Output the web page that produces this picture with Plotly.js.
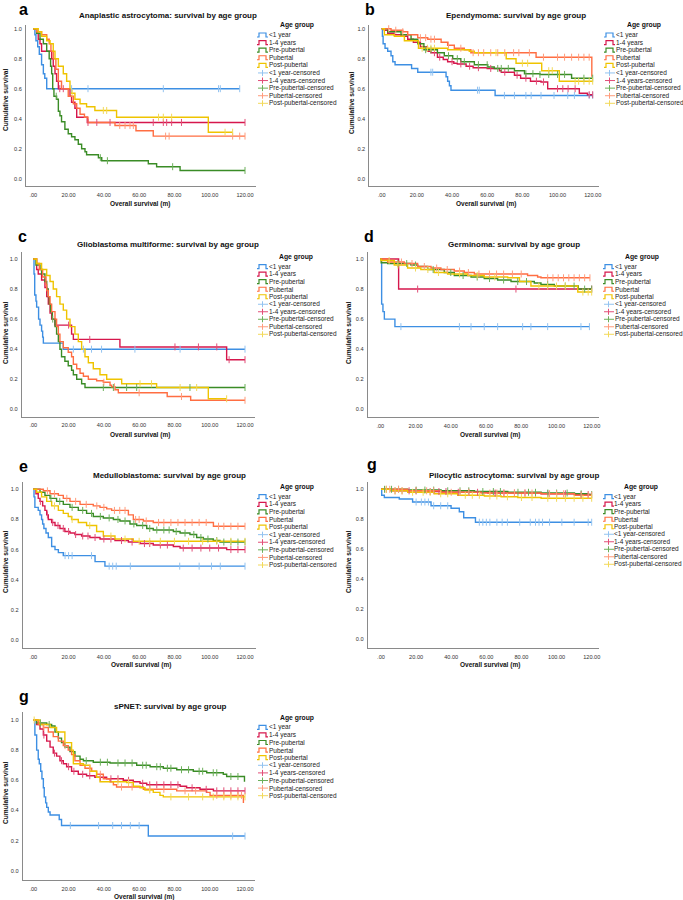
<!DOCTYPE html>
<html><head><meta charset="utf-8">
<script src="https://cdn.plot.ly/plotly-3.0.1.min.js"></script>
<style>html,body{margin:0;padding:0;background:#fff}</style>
</head><body><div id="chart" style="width:683px;height:900px"></div>
<script>
// ---------- labels ----------
const groups = ['<1 year','1-4 years','Pre-pubertal','Pubertal','Post-pubertal'];
const censorSuffix = '-censored';
const legendTitle = 'Age group';
const lineColors = ['#3d8fe3','#d6174c','#3a8c26','#ff6e42','#efc400'];
const censorColors = ['#93c3f0','#e24f78','#6cb05a','#ff9c7c','#f2d95a'];
const panelLetters = ['a','b','c','d','e','g','g'];
const panelTitles = [
  'Anaplastic astrocytoma: survival by age group',
  'Ependymoma: survival by age group',
  'Glioblastoma multiforme: survival by age group',
  'Germinoma: survival by age group',
  'Medulloblastoma: survival by age group',
  'Pilocytic astrocytoma: survival by age group',
  'sPNET: survival by age group'
];
const xTitle = 'Overall survival (m)';
const yTitle = 'Cumulative survival';
const xTickVals = [0,20,40,60,80,100,120];
const xTickText = ['.00','20.00','40.00','60.00','80.00','100.00','120.00'];
const yTickVals = [0,0.2,0.4,0.6,0.8,1.0];
const yTickText = ['0.0','0.2','0.4','0.6','0.8','1.0'];

// ---------- data: [time (months), survival after step]; censored times ----------
// a: Anaplastic astrocytoma
const aLt1 = [[0,1],[0.9,0.96],[1.5,0.92],[2.5,0.88],[3.4,0.83],[4.7,0.76],[5.7,0.70],[6.5,0.67],[7.6,0.60]];
const aLt1C = [21.7,31,73.7,105,106,117];
const a14 = [[0,1],[1.9,0.97],[2.8,0.93],[3.8,0.90],[4.7,0.85],[10.4,0.80],[11.3,0.75],[12.3,0.70],[13.2,0.65],[14.2,0.60],[20.8,0.55],[21.7,0.51],[23.6,0.47],[24.6,0.41],[30.6,0.375]];
const a14C = [15,17,31,36,43.5,68,73.7,75.6,78.4,84,120];
const aPre = [[0,1],[1.9,0.97],[3.8,0.93],[5.7,0.90],[7.6,0.85],[9,0.80],[9.8,0.75],[10.4,0.70],[11,0.60],[11.7,0.55],[13.2,0.53],[14.2,0.45],[15.1,0.42],[16,0.38],[17.9,0.33],[19.8,0.30],[21.7,0.28],[23.6,0.26],[25.5,0.23],[27.4,0.20],[29.3,0.18],[30.2,0.16],[36.9,0.14],[38.8,0.12],[65.2,0.10],[69.9,0.08],[83.2,0.055]];
const aPreC = [13,38,42,79,120];
const aPub = [[0,1],[1.9,0.98],[4.7,0.96],[7.6,0.93],[9,0.90],[10,0.85],[11.3,0.80],[12.8,0.73],[14.2,0.65],[16,0.60],[19.8,0.55],[22.7,0.50],[24.6,0.47],[26.5,0.43],[29,0.41],[31,0.375],[46.3,0.355],[58.2,0.32],[68,0.284]];
const aPubC = [49,52,54.8,56.7,75,77,113,117,120];
const aPost = [[0,1],[2.8,0.98],[4.7,0.95],[7.6,0.92],[9.5,0.90],[11.3,0.85],[12.3,0.80],[14.2,0.75],[17,0.70],[18.9,0.65],[20.8,0.60],[21.7,0.57],[23.6,0.53],[26.5,0.50],[30.2,0.48],[34.9,0.455],[47.2,0.41],[99.2,0.31]];
const aPostC = [22,39.7,41.6,71,73.7,78.4,108.7,113];

// b: Ependymoma
const bLt1 = [[0,1],[0.4,0.95],[0.8,0.90],[1.9,0.87],[3.4,0.85],[5.3,0.82],[6.3,0.78],[7.6,0.76],[17,0.735],[20.5,0.71],[36.6,0.68],[37.5,0.65],[38.5,0.62],[39.4,0.59],[64.5,0.555]];
const bLt1C = [28,29,54.5,55.5,69.8,75.5,82,85,90.6,98,105.8,109.6,118,120];
const b14 = [[0,1],[1.5,0.99],[3.4,0.97],[7,0.96],[11,0.95],[14.8,0.93],[18,0.91],[22,0.88],[26,0.85],[28,0.84],[31.7,0.81],[35,0.795],[37.5,0.78],[41,0.77],[43,0.765],[48,0.75],[52,0.74],[60,0.735],[67,0.72],[68,0.71],[75.5,0.69],[79,0.67],[84.6,0.65],[90.6,0.645],[94.4,0.60],[112.4,0.57],[117,0.56]];
const b14C = [30,33,40,45,50,55,62,70,77,82,88,92,100,103,106,110,118,120];
const bPre = [[0,1],[3.4,0.98],[11,0.96],[16.7,0.93],[20.5,0.90],[24,0.86],[31.7,0.84],[35.6,0.82],[40.4,0.80],[45,0.78],[52.7,0.76],[60.3,0.745],[64,0.735],[75.5,0.72],[81.2,0.70],[90,0.695],[108,0.67]];
const bPreC = [25,28,38,43,47,55,60,66,68,72,82,86,90,95,100,104,115,120];
const bPub = [[0,1],[5.3,0.99],[12,0.98],[14.8,0.96],[20.5,0.94],[26.2,0.93],[33.8,0.91],[37.5,0.89],[41.3,0.87],[47,0.86],[50.7,0.84],[87.8,0.81],[119.5,0.68]];
const bPubC = [4,8,12,22,25,28,30,38,45,52,55,58,62,66,70,75,78,84,92,100,104,108,112,115,118];
const bPost = [[0,1],[1.5,0.96],[7.2,0.95],[12.9,0.92],[20.9,0.87],[37.5,0.86],[49.8,0.85],[52.7,0.84],[70.8,0.80],[76.4,0.77],[91,0.72],[101,0.65]];
const bPostC = [23,26,28,30,65,80,83,95,97,110,112,115,118,120];

// c: Glioblastoma multiforme
const cLt1 = [[0,1],[0.4,0.90],[0.8,0.76],[1.5,0.72],[1.9,0.68],[3,0.60],[3.8,0.56],[4.7,0.52],[5.3,0.48],[5.7,0.44],[17,0.40]];
const cLt1C = [22.7,28.4,33,38.7,57.6,83.2,120];
const c14 = [[0,1],[1.9,0.93],[2.8,0.90],[4.7,0.86],[6.6,0.81],[7.6,0.75],[8.5,0.70],[9.5,0.64],[10.4,0.60],[12.3,0.56],[21.7,0.50],[22.7,0.465],[49.1,0.415],[109.6,0.33]];
const c14C = [20,32,80.3,93.6,104,111,120];
const cPre = [[0,1],[1.5,0.96],[3.8,0.93],[4.7,0.90],[6.6,0.85],[7.6,0.80],[8.5,0.75],[9.1,0.70],[9.8,0.65],[10.8,0.60],[12.3,0.55],[13.2,0.50],[14.2,0.45],[15.1,0.40],[16,0.35],[17.9,0.32],[19.8,0.29],[21.7,0.26],[22.7,0.23],[24.6,0.20],[27.4,0.17],[29.3,0.145]];
const cPreC = [11,39.7,45.4,52.9,58.6,88.8,120];
const cPub = [[0,1],[1.9,0.97],[3.4,0.93],[5.3,0.88],[7.2,0.83],[7.6,0.79],[8.5,0.75],[9.5,0.70],[10.4,0.65],[12.3,0.60],[13.2,0.55],[14.2,0.50],[15.1,0.45],[17,0.41],[19.8,0.38],[21.7,0.35],[22.7,0.30],[24.6,0.27],[26.5,0.24],[28.4,0.22],[31.2,0.20],[35.9,0.19],[39.7,0.18],[43.5,0.16],[44.4,0.15],[46.3,0.13],[48.2,0.11],[75.9,0.085],[89.2,0.06]];
const cPubC = [40,46,60,84,120];
const cPost = [[0,1],[1.9,0.97],[4.7,0.93],[7.6,0.89],[9.5,0.85],[11.3,0.80],[13.2,0.75],[15.1,0.70],[17,0.66],[18.9,0.60],[20.8,0.55],[23.6,0.50],[25.5,0.45],[27.4,0.40],[29.3,0.35],[31.2,0.31],[34,0.27],[37.8,0.23],[41.6,0.20],[50.1,0.17],[69.9,0.145],[99.2,0.07]];
const cPostC = [60.5,67,83.2,92.6,109.6];

// d: Germinoma
const dLt1 = [[0,1],[0.76,0.70],[1.5,0.65],[2.3,0.60],[8.3,0.55]];
const dLt1C = [11.7,44.9,51.5,59,66.6,80.8,85.5,95,113.9,118.7];
const d14 = [[0,1],[10.4,0.80]];
const d14C = [21.2,77,120];
const dPre = [[0,1],[0.5,0.975],[4.2,0.97],[17.4,0.96],[21.2,0.95],[26.9,0.93],[36.3,0.91],[42,0.89],[51.5,0.88],[59,0.87],[66.6,0.86],[74.2,0.85],[87.4,0.84],[91.2,0.83],[98.8,0.82],[112.4,0.80]];
const dPreC = [10,15,20,30,40,47,55,62,70,78,83,95,105,110,116,120];
const dPub = [[0,1],[4.2,0.98],[13.6,0.97],[21.2,0.95],[28.8,0.94],[34.4,0.93],[42,0.92],[47.7,0.91],[53.4,0.90],[83.6,0.89],[89.3,0.88],[91.2,0.875]];
const dPubC = [12,18,25,32,38,45,50,56,62,66,70,75,80,95,98,101,104,107,110,113,116,119];
const dPost = [[0,1],[0.4,0.99],[7.9,0.96],[15.5,0.94],[23,0.93],[30.6,0.91],[38.2,0.90],[49.6,0.89],[59,0.88],[72.3,0.875],[79,0.85],[85.5,0.82],[112.1,0.78]];
const dPostC = [5,10,20,27,33,45,55,65,90,95,100,105,115,118,120];

// e: Medulloblastoma
const eLt1 = [[0,1],[0.4,0.95],[0.9,0.88],[2.8,0.86],[3.8,0.83],[4.7,0.80],[5.3,0.77],[6,0.74],[7.2,0.71],[8.5,0.68],[10.4,0.62],[12.3,0.60],[14.2,0.58],[17,0.56],[35,0.52],[40.6,0.49]];
const eLt1C = [18,20,22,33,43,45,47,55,83,94,101,106,120];
const e14 = [[0,1],[1.5,0.97],[2.8,0.94],[3.8,0.92],[5.3,0.89],[6.6,0.86],[7.6,0.83],[8.5,0.80],[10.4,0.78],[12.3,0.76],[15.1,0.74],[17.9,0.72],[20.8,0.71],[23.6,0.70],[27.4,0.69],[32.1,0.68],[37.8,0.67],[46.3,0.66],[53.9,0.65],[60.5,0.64],[68,0.63],[79.4,0.62],[83.2,0.61],[109.6,0.60]];
const e14C = [4,8,11,14,17,20,24,28,31,35,40,44,50,56,63,66,72,76,85,90,95,100,105,112,116,120];
const ePre = [[0,1],[3.8,0.98],[6.6,0.96],[9.5,0.94],[13.2,0.92],[17,0.90],[20.8,0.88],[25.5,0.86],[30.2,0.84],[34,0.82],[39.7,0.81],[45.4,0.80],[49.1,0.79],[54.8,0.77],[58.6,0.76],[64.3,0.74],[68,0.73],[79.4,0.72],[83.2,0.71],[88.8,0.70],[92.6,0.68],[96.4,0.67],[102,0.66],[105.8,0.65]];
const ePreC = [10,15,22,28,33,38,43,48,52,57,62,66,70,74,77,81,86,91,95,99,104,108,112,116,120];
const ePub = [[0,1],[5.7,0.99],[9.5,0.97],[14.2,0.96],[17,0.94],[20.8,0.92],[26.5,0.90],[34,0.89],[37.8,0.88],[41.6,0.87],[44.4,0.86],[53.9,0.83],[56.7,0.80],[62.4,0.79],[68,0.78],[102.1,0.755]];
const ePubC = [8,12,19,24,30,36,40,46,49,52,58,60,64,71,74,78,82,86,90,94,98,105,108,112,116,120];
const ePost = [[0,1],[1.9,0.98],[4.7,0.95],[7.6,0.92],[10.4,0.89],[14.2,0.86],[17,0.84],[19.8,0.82],[21.7,0.80],[25.5,0.78],[30.2,0.76],[35.9,0.72],[39.7,0.69],[46.3,0.67],[56.7,0.655]];
const ePostC = [12,22,32,44,52,60,66,72,80,88,96,104,112,120];

// f (labelled g): Pilocytic astrocytoma
const fLt1 = [[0,1],[0.4,0.96],[1.9,0.945],[10.4,0.935],[18,0.915],[28.5,0.89],[39.9,0.873],[44.6,0.85],[47.1,0.81],[53.8,0.78]];
const fLt1C = [20,23,25,27,30,34,38,56,58,60,62,66,69,72,79,85,88,90,92,96,103,110,118,120];
const f14 = [[0,1],[5.7,0.99],[24.7,0.985],[39.9,0.98],[60.8,0.975],[91.2,0.97],[110.2,0.965],[119,0.955]];
const f14C = [3,8,12,16,20,28,33,37,44,50,55,65,70,76,82,88,95,100,105,114,118];
const fPre = [[0,1],[15.2,0.995],[34.2,0.99],[53.2,0.985],[72.2,0.98],[91.2,0.975],[110.2,0.97],[118,0.965]];
const fPreC = [2,6,10,20,25,30,38,45,50,58,64,68,78,84,88,95,100,106,114,120];
const fPub = [[0,1],[15.2,0.99],[34.2,0.98],[57,0.975],[91.2,0.97],[110.2,0.96]];
const fPubC = [5,10,20,26,30,40,45,50,62,66,70,76,82,86,96,100,104,114,118,120];
const fPost = [[0,1],[5.7,0.99],[15.2,0.98],[30.4,0.97],[43.7,0.96],[58.9,0.955],[68.4,0.95],[77.9,0.945],[91.2,0.94]];
const fPostC = [3,8,12,18,24,28,34,38,48,52,56,62,66,72,80,86,95,100,105,110,115,120];

// g: sPNET
const gLt1 = [[0,1],[0.9,0.90],[1.9,0.80],[2.8,0.74],[3.4,0.71],[4.2,0.66],[4.9,0.61],[5.7,0.55],[6.2,0.49],[7,0.45],[7.6,0.42],[8.5,0.39],[9.5,0.37],[14.7,0.34],[16,0.30],[65.2,0.23]];
const gLt1C = [21,37,45,50,55,60,113,120];
const g14 = [[0,1],[1.9,0.97],[3.8,0.94],[5.7,0.90],[7.6,0.86],[9.5,0.82],[11.3,0.78],[13.2,0.76],[15.1,0.73],[17,0.71],[18.9,0.69],[21.7,0.66],[25.5,0.64],[30.2,0.63],[34.9,0.62],[41.6,0.61],[51,0.60],[56.7,0.59],[60.5,0.58],[64.3,0.57],[83.2,0.56],[86.9,0.55],[94.5,0.54],[102.1,0.53]];
const g14C = [6,12,16,20,23,28,32,38,44,48,54,62,66,70,74,78,82,90,98,104,108,112,116,120];
const gPre = [[0,1],[1.9,0.98],[7.6,0.97],[10.4,0.96],[12.3,0.92],[14.2,0.88],[16,0.85],[17.9,0.82],[20.8,0.79],[23.6,0.76],[26.5,0.74],[28.4,0.73],[34,0.72],[43.5,0.715],[58.6,0.70],[66.2,0.69],[73.7,0.68],[81.3,0.67],[90.7,0.66],[98.3,0.65],[107.7,0.64],[109.6,0.625],[119.7,0.59]];
const gPreC = [4,9,30,38,42,48,52,56,62,64,70,72,76,78,84,88,94,96,102,104,112,116];
const gPub = [[0,1],[2.8,0.97],[5.7,0.95],[8.5,0.92],[11.3,0.89],[14.2,0.86],[17,0.83],[19.8,0.80],[21.7,0.77],[23.6,0.73],[26.5,0.70],[29.3,0.68],[33.1,0.66],[35.9,0.64],[39.7,0.61],[43.5,0.59],[45.4,0.57],[47.2,0.555],[62.4,0.54],[81.3,0.53],[98.3,0.52],[100.2,0.50],[119.1,0.45]];
const gPubC = [6,18,32,38,50,56,66,74,86,92,104,108,112,116,118];
const gPost = [[0,1],[3.8,0.97],[9.5,0.95],[13.2,0.92],[17.9,0.85],[21.7,0.80],[22.7,0.71],[28.4,0.70],[32.1,0.66],[35.9,0.62],[37.8,0.59],[52.9,0.585],[56.7,0.56],[60.5,0.55],[63.3,0.535],[68,0.52],[71.8,0.50],[73.7,0.49]];
const gPostC = [0.5,48,54,66,78,88,96,102,108,112,116,120];

// ---------- assembly ----------
const panelSteps = [
  [aLt1,a14,aPre,aPub,aPost],[bLt1,b14,bPre,bPub,bPost],[cLt1,c14,cPre,cPub,cPost],
  [dLt1,d14,dPre,dPub,dPost],[eLt1,e14,ePre,ePub,ePost],[fLt1,f14,fPre,fPub,fPost],
  [gLt1,g14,gPre,gPub,gPost]];
const panelCens = [
  [aLt1C,a14C,aPreC,aPubC,aPostC],[bLt1C,b14C,bPreC,bPubC,bPostC],[cLt1C,c14C,cPreC,cPubC,cPostC],
  [dLt1C,d14C,dPreC,dPubC,dPostC],[eLt1C,e14C,ePreC,ePubC,ePostC],[fLt1C,f14C,fPreC,fPubC,fPostC],
  [gLt1C,g14C,gPreC,gPubC,gPostC]];

// pixel layout of each panel (layout only)
const PX = [
 {L:26,R:256,T:25,B:186,x0:33.3,x120:245,y1:28.7,y0:178.7,tX:168,tY:15,lX:18,lY:10,xtX:140,xtY:204,ytX:5,ytY:100,icX:257,txX:268,agX:297,agY:25,it0:35,itS:7.59},
 {L:369.3,R:599.3,T:25,B:186,x0:381.7,x120:592.7,y1:28.7,y0:178.7,tX:516,tY:15,lX:364,lY:10,xtX:486,xtY:204,ytX:351,ytY:103,icX:604,txX:615,agX:644,agY:25,it0:35,itS:7.59},
 {L:21.7,R:255,T:251.7,B:416.7,x0:33.3,x120:245,y1:259,y0:409.3,tX:168,tY:245,lX:17,lY:237,xtX:140,xtY:435,ytX:5,ytY:333,icX:257,txX:268,agX:296,agY:256.7,it0:266.7,itS:7.51},
 {L:367.7,R:599.3,T:252,B:417.3,x0:380.3,x120:591.7,y1:259,y0:409.3,tX:514,tY:245,lX:363,lY:237,xtX:490,xtY:435,ytX:348,ytY:333,icX:603,txX:614,agX:642,agY:256.7,it0:266.7,itS:7.51},
 {L:22.7,R:256,T:481.7,B:648.3,x0:33.3,x120:245,y1:489.3,y0:640,tX:169,tY:476,lX:18,lY:466,xtX:141,xtY:665,ytX:5,ytY:562,icX:257,txX:268,agX:297,agY:487.3,it0:496.7,itS:7.59},
 {L:367.7,R:599.3,T:481.7,B:648.3,x0:381,x120:591.7,y1:489.3,y0:639,tX:514,tY:476,lX:366,lY:464,xtX:490,xtY:665,ytX:348,ytY:562,icX:603,txX:613,agX:641,agY:487.3,it0:496.7,itS:7.51},
 {L:22.7,R:255,T:711.7,B:880,x0:33.3,x120:245,y1:720,y0:870.7,tX:170,tY:706,lX:18,lY:696,xtX:144,xtY:896.7,ytX:5,ytY:793,icX:257,txX:268,agX:297,agY:717.7,it0:727.3,itS:7.6}
];

const W = 683, H = 900, FONT = 'Liberation Sans, Arial, sans-serif';
const px = x => x / W, py = y => 1 - y / H;
const esc = s => s.replace(/</g,'&lt;');

function survAt(steps, t) {
  let s = steps[0][1];
  for (const [ti, si] of steps) { if (ti <= t) s = si; else break; }
  return s;
}

const traces = [];
const layout = {
  width: W, height: H, margin: {l:0,r:0,t:0,b:0},
  paper_bgcolor: '#fff', plot_bgcolor: '#fff', showlegend: false,
  font: {family: FONT, color: '#222'},
  annotations: [], shapes: []
};

PX.forEach((p, i) => {
  const k = i === 0 ? '' : String(i + 1);
  const xs = (p.x120 - p.x0) / 120, ys = (p.y0 - p.y1);
  const axFont = {family: FONT, size: 5.6, color: '#333'};
  layout['xaxis' + k] = {
    domain: [px(p.L), px(p.R)], anchor: 'y' + k,
    range: [(p.L - p.x0) / xs, (p.R - p.x0) / xs],
    tickvals: xTickVals, ticktext: xTickText, tickfont: axFont,
    ticks: 'outside', ticklen: 3, tickcolor: 'rgba(0,0,0,0)',
    showline: true, linecolor: '#8a8a8a', linewidth: 1,
    showgrid: false, zeroline: false, fixedrange: true
  };
  layout['yaxis' + k] = {
    domain: [py(p.B), py(p.T)], anchor: 'x' + k,
    range: [(p.y0 - p.B) / ys, (p.y0 - p.T) / ys],
    tickvals: yTickVals, ticktext: yTickText, tickfont: axFont,
    ticks: 'outside', ticklen: 2, tickcolor: 'rgba(0,0,0,0)',
    showline: true, linecolor: '#8a8a8a', linewidth: 1,
    showgrid: false, zeroline: false, fixedrange: true
  };

  // curves
  panelSteps[i].forEach((steps, g) => {
    const cens = panelCens[i][g];
    const lastT = Math.max(steps[steps.length - 1][0], ...cens);
    const x = steps.map(d => d[0]).concat([lastT]);
    const y = steps.map(d => d[1]).concat([steps[steps.length - 1][1]]);
    traces.push({type: 'scatter', mode: 'lines', x, y, xaxis: 'x' + k, yaxis: 'y' + k,
      line: {shape: 'hv', color: lineColors[g], width: 1.4}, hoverinfo: 'skip'});
  });
  panelSteps[i].forEach((steps, g) => {
    const cens = panelCens[i][g];
    traces.push({type: 'scatter', mode: 'markers', x: cens, y: cens.map(t => survAt(steps, t)),
      xaxis: 'x' + k, yaxis: 'y' + k,
      marker: {symbol: 'line-ns-open', size: 5, color: censorColors[g], line: {width: 1, color: censorColors[g]}},
      hoverinfo: 'skip'});
  });

  const A = layout.annotations, S = layout.shapes;
  const ann = (x, y, text, opt) => A.push(Object.assign({xref:'paper', yref:'paper', x: px(x), y: py(y), text,
    showarrow: false, xanchor: 'center', yanchor: 'middle', borderpad: 0}, opt));
  // panel letter
  ann(p.lX, p.lY, panelLetters[i], {xanchor: 'left', font: {family: FONT, size: 16, weight: 'bold', color: '#000'}});
  // title
  ann(p.tX, p.tY, esc(panelTitles[i]), {font: {family: FONT, size: 8, weight: 'bold', color: '#111'}});
  // axis titles
  ann(p.xtX, p.xtY, xTitle, {font: {family: FONT, size: 6.5, weight: 'bold', color: '#111'}});
  ann(p.ytX, p.ytY, yTitle, {textangle: -90, font: {family: FONT, size: 6.6, weight: 'bold', color: '#111'}});
  // legend
  ann(p.agX, p.agY, legendTitle, {font: {family: FONT, size: 6.8, weight: 'bold', color: '#111'}});
  const names = groups.concat(groups.map(g => g + censorSuffix));
  names.forEach((nm, j) => {
    const yy = p.it0 + j * p.itS;
    ann(p.txX, yy, esc(nm), {xanchor: 'left', font: {family: FONT, size: 6.5, color: '#222'}});
    if (j < 5) {
      const x0 = p.icX, yb = yy + 2, yt = yy - 2;
      S.push({type: 'path', xref: 'paper', yref: 'paper',
        path: `M ${px(x0)} ${py(yb)} L ${px(x0+2)} ${py(yb)} L ${px(x0+2)} ${py(yt)} L ${px(x0+9)} ${py(yt)} L ${px(x0+9)} ${py(yb)} L ${px(x0+11)} ${py(yb)}`,
        line: {color: lineColors[j], width: 1.2}});
    } else {
      const c = censorColors[j - 5], cx = p.icX + 5.5;
      S.push({type: 'line', xref: 'paper', yref: 'paper', x0: px(p.icX + 1), x1: px(p.icX + 11), y0: py(yy), y1: py(yy), line: {color: c, width: 1}});
      S.push({type: 'line', xref: 'paper', yref: 'paper', x0: px(cx), x1: px(cx), y0: py(yy - 3), y1: py(yy + 3), line: {color: c, width: 1}});
    }
  });
});

Plotly.newPlot('chart', traces, layout, {staticPlot: true, displayModeBar: false});
</script>
</body></html>
